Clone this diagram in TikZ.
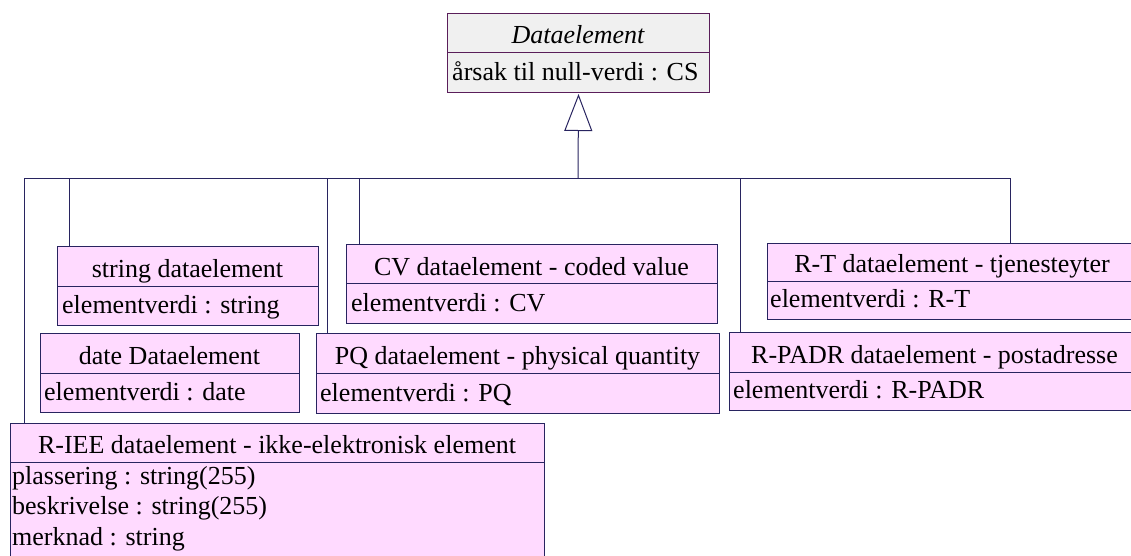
\documentclass[tikz,border=0pt]{standalone}
\usepackage{fontspec}
\setmainfont{Liberation Serif}
\newfontfamily\umlfont{Liberation Serif}
\usetikzlibrary{arrows.meta}

\definecolor{classfill}{RGB}{255,218,255}
\definecolor{abstractfill}{RGB}{240,240,240}
\definecolor{edgecol}{RGB}{40,36,96}
\definecolor{abstractedge}{RGB}{90,30,90}

\tikzset{
  classbox/.style={draw=edgecol, fill=classfill, line width=1pt, inner sep=0pt, rectangle},
  boxline/.style={draw=edgecol, line width=1pt},
  link/.style={draw=edgecol, line width=1pt},
  titletext/.style={inner sep=0pt, font=\umlfont\fontsize{26}{30}\selectfont},
  attrtext/.style={inner sep=0pt, font=\umlfont\fontsize{26}{30}\selectfont},
  generalize/.style={-{Triangle[open, length=37pt, width=28pt, fill=white]}, link},
}

% #1 extra style, #2 name, #3 x1, #4 y1, #5 x2, #6 y2, #7 divider y
\newcommand\umlbox[7][]{%
  \node[classbox, #1, anchor=north west, minimum width={#5-#3}, minimum height={#6-#4}] (#2) at (#3,#4) {};
  \draw[boxline, #1] (#3,#7) -- (#5,#7);
}

\begin{document}
\begin{tikzpicture}[x=1pt, y=-1pt]
\useasboundingbox (0,0) rectangle (1131,555);
\clip (0,0) rectangle (1131,555);

% abstract parent class
\umlbox[fill=abstractfill, draw=abstractedge]{top}{447}{13}{709}{92}{52}
\node[titletext, anchor=base] (top-t) at (578,43) {\itshape Dataelement};
\node[attrtext, anchor=base west] (top-a) at (452,80) {årsak til null-verdi : CS};

% subclasses
\umlbox{str}{57}{246}{318}{325}{286}
\node[titletext, anchor=base] (str-t) at (187.5,277) {string dataelement};
\node[attrtext, anchor=base west] (str-a) at (62,313) {elementverdi : string};

\umlbox{cv}{346}{244}{717}{323}{283}
\node[titletext, anchor=base] (cv-t) at (531.5,275) {CV dataelement - coded value};
\node[attrtext, anchor=base west] (cv-a) at (351,311) {elementverdi : CV};

\umlbox{date}{40}{333}{299}{412}{373}
\node[titletext, anchor=base] (date-t) at (169.5,364) {date Dataelement};
\node[attrtext, anchor=base west] (date-a) at (44,400) {elementverdi : date};

\umlbox{pq}{316}{333}{719}{413}{373}
\node[titletext, anchor=base] (pq-t) at (517.5,364) {PQ dataelement - physical quantity};
\node[attrtext, anchor=base west] (pq-a) at (320,401) {elementverdi : PQ};

\umlbox{rt}{767}{243}{1137}{319}{281}
\node[titletext, anchor=base] (rt-t) at (952,272) {R-T dataelement - tjenesteyter};
\node[attrtext, anchor=base west] (rt-a) at (770,307) {elementverdi : R-T};

\umlbox{padr}{729}{332}{1140}{410}{372}
\node[titletext, anchor=base] (padr-t) at (934.5,363) {R-PADR dataelement - postadresse};
\node[attrtext, anchor=base west] (padr-a) at (733,398) {elementverdi : R-PADR};

\umlbox{iee}{10}{423}{544}{600}{462}
\node[titletext, anchor=base] (iee-t) at (277,453) {R-IEE dataelement - ikke-elektronisk element};
\node[attrtext, anchor=base west] (iee-a1) at (12,484) {plassering : string(255)};
\node[attrtext, anchor=base west] (iee-a2) at (12,514.5) {beskrivelse : string(255)};
\node[attrtext, anchor=base west] (iee-a3) at (12,545) {merknad : string};

% generalization bus
\coordinate (hub) at (578,178);
\coordinate (b-iee) at (24,178);
\coordinate (b-str) at (69,178);
\coordinate (b-pq) at (327,178);
\coordinate (b-cv) at (359,178);
\coordinate (b-padr) at (740,178);
\coordinate (b-rt) at (1010,178);

\draw[generalize] (hub) -- ([yshift=-1pt]top.south);
\draw[link] (b-iee) -- (b-rt);
\draw[link] (b-iee) -- (b-iee |- iee.north);
\draw[link] (b-str) -- (b-str |- str.north);
\draw[link] (b-pq) -- (b-pq |- pq.north);
\draw[link] (b-cv) -- (b-cv |- cv.north);
\draw[link] (b-padr) -- (b-padr |- padr.north);
\draw[link] (b-rt) -- (b-rt |- rt.north);
\end{tikzpicture}
\end{document}
